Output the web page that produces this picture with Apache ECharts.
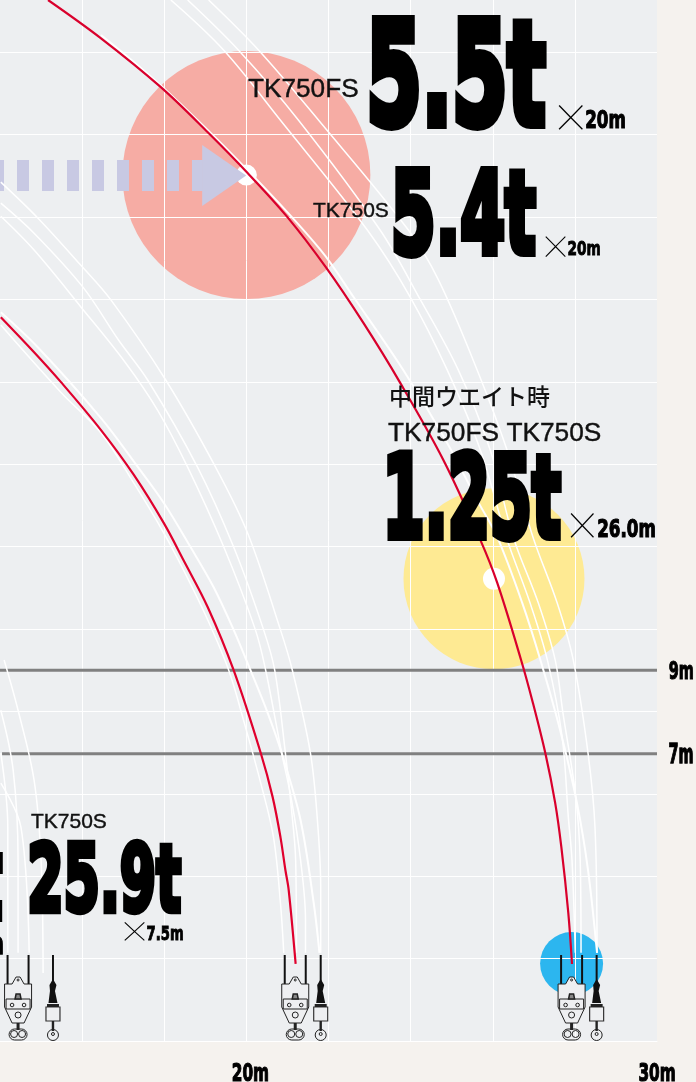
<!DOCTYPE html>
<html>
<head>
<meta charset="utf-8">
<style>html,body{margin:0;padding:0;background:#f5f2ee}#chart{width:696px;height:1082px}</style>
<script src="https://cdn.jsdelivr.net/npm/echarts@6/dist/echarts.min.js"></script>
</head>
<body>
<div id="chart"></div>
<script>
const myChart = echarts.init(document.getElementById("chart"));

// 揚程 / 作業半径 (m)
const xTicks = [20, 30];
const xTickLabels = ["20m", "30m"];
const heightLines = [9, 6.97];
const heightStarts = [14, 14.05];
const heightLabels = ["9m", "7m"];

const redOuter = [[15.17,25.27],[16.46,24.34],[17.91,23.16],[19.06,22.06],[20.03,21.07],[21.00,20.00],[21.93,18.79],[22.85,17.43],[23.75,15.97],[24.80,14.10],[25.70,12.16],[26.11,11.12],[26.69,9.25],[26.98,8.20],[27.28,6.99],[27.52,5.78],[27.67,4.71],[27.84,3.11],[27.93,1.87]];
const redInner = [[14.02,17.57],[14.83,16.72],[15.48,16.00],[16.46,14.83],[17.26,13.74],[17.99,12.57],[18.47,11.67],[19.06,10.53],[19.69,9.00],[20.35,6.99],[20.64,5.92],[20.83,4.95],[20.95,4.15],[21.03,3.67],[21.20,1.87]];

const outerF = [[16.46,24.42],[17.91,23.20],[20.03,21.14],[21.81,19.20],[22.61,18.06],[23.82,16.29],[24.85,14.59],[25.62,13.13],[26.11,12.23],[26.72,10.63],[27.16,9.25],[27.64,7.55],[28.05,5.78],[28.32,4.15],[28.54,2.14]];
const outerG = [[18.16,25.27],[19.45,24.05],[20.83,22.35],[22.95,19.68],[23.99,18.06],[24.89,16.29],[25.70,14.34],[26.33,12.23],[26.91,10.63],[27.33,9.25],[27.69,7.38],[27.84,5.44],[27.93,4.39],[28.01,2.14]];
const outerH = [[18.57,25.27],[19.81,24.05],[21.27,22.35],[23.26,19.68],[24.24,17.99],[25.16,16.29],[25.94,14.34],[26.50,12.23],[27.11,10.63],[27.52,9.25],[27.71,7.96],[28.01,6.02],[28.13,4.39],[28.15,2.14]];
const outerI = [[19.08,25.27],[20.30,24.05],[21.76,22.35],[23.95,19.68],[24.68,18.47],[25.62,16.29],[26.35,14.34],[26.98,12.23],[27.57,10.63],[27.96,9.25],[28.32,6.99],[28.49,5.19],[28.54,2.14]];

const innerA = [[14.02,17.69],[14.92,16.84],[16.46,15.12],[17.36,13.93],[17.99,13.06],[18.64,11.99],[19.20,11.02],[19.69,9.98],[20.10,9.00],[20.52,7.96],[20.86,6.99],[21.32,5.36],[21.64,3.35],[21.78,2.14]];
const innerB = [[14.02,17.38],[15.48,15.75],[16.46,14.76],[17.26,13.54],[17.99,12.33],[18.47,11.43],[19.06,10.22],[19.57,9.00],[19.93,7.79],[20.35,6.26],[20.66,4.95],[20.83,3.35],[20.91,2.14]];
const innerC = [[14.02,20.85],[14.92,19.98],[15.97,18.83],[16.70,17.99],[18.04,16.04],[19.25,13.93],[20.03,12.33],[20.83,9.98],[21.12,9.00],[21.56,6.99],[21.73,5.36],[21.81,3.74],[21.81,2.14]];
const innerD = [[14.02,20.34],[14.83,19.61],[16.02,18.30],[16.89,17.01],[17.60,16.04],[18.81,13.93],[19.69,11.99],[20.42,9.98],[20.69,9.00],[20.95,6.99],[21.10,5.61],[21.20,4.39],[21.22,2.14]];
const innerE = [[14.02,20.02],[14.83,19.20],[15.97,17.82],[17.06,16.46],[17.84,15.31],[18.57,13.93],[19.45,11.99],[20.22,9.98],[20.47,9.00],[20.86,6.99],[21.10,5.85],[21.32,4.39],[21.44,2.94],[21.44,2.14]];

const leftA = [[14.10,9.25],[14.44,8.03],[14.83,6.33],[15.00,4.39],[15.05,1.65]];
const leftB = [[14.02,8.03],[14.32,6.58],[14.44,4.39],[14.44,2.14]];
const leftC = [[14.02,6.99],[14.19,5.19],[14.19,2.14]];
const leftD = [[14.02,6.26],[14.51,5.19],[14.71,2.14]];

const whiteCurves = [outerF, outerG, outerH, outerI, innerA, innerB, innerC, innerD, innerE, leftA, leftB, leftC, leftD];

const loadPoints = [[20, 21.02], [26.03, 11.22], [27.92, 1.88]];
const loadSizes = [248, 181, 63];
const loadColors = ["#f6aca4", "#feea93", "#2cb6ef"];
const whiteDots = [[20, 21.02, 21], [26.03, 11.22, 22]];

const arrowShaft = [[14, 21.01], [18.94, 21.01]];
const arrowHead = [[19.46, 21.01]];

const mainHooks = [14.44, 21.19, 27.92];
const auxHooks = [15.29, 21.81, 28.53];

const INK = "#000";

// 主巻フック
function mainHook(api) {
  const p = api.coord([api.value(0), 0]);
  const cx = p[0], y = p[1];
  const ln = { stroke: "#222", lineWidth: 1, fill: "#eeeff1" };
  const no = { stroke: "#222", lineWidth: 1, fill: "none" };
  return { type: "group", children: [
    { type: "line", shape: { x1: cx - 10.5, y1: y - 86, x2: cx - 10.5, y2: y - 57 }, style: { stroke: "#111", lineWidth: 2 } },
    { type: "line", shape: { x1: cx + 10.5, y1: y - 86, x2: cx + 10.5, y2: y - 57 }, style: { stroke: "#111", lineWidth: 2 } },
    { type: "polygon", shape: { points: [[cx - 13.5, y - 57], [cx - 6, y - 57], [cx - 2, y - 64], [cx + 2, y - 64], [cx + 6, y - 57], [cx + 13.5, y - 57], [cx + 13.5, y - 34], [cx + 6, y - 18], [cx - 6, y - 18], [cx - 13.5, y - 34]] }, style: ln },
    { type: "rect", shape: { x: cx - 12, y: y - 42, width: 24, height: 10 }, style: ln },
    { type: "polygon", shape: { points: [[cx - 3, y - 42], [cx - 2, y - 47], [cx + 2, y - 47], [cx + 3, y - 42]] }, style: { stroke: "#222", lineWidth: 1.5, fill: "#888" } },
    { type: "circle", shape: { cx: cx - 6, cy: y - 36, r: 1.8 }, style: no },
    { type: "circle", shape: { cx: cx + 6, cy: y - 36, r: 1.8 }, style: no },
    { type: "circle", shape: { cx: cx, cy: y - 26, r: 3 }, style: no },
    { type: "circle", shape: { cx: cx, cy: y - 61, r: 1 }, style: no },
    { type: "rect", shape: { x: cx - 1.5, y: y - 18, width: 3, height: 7 }, style: { fill: "#222" } },
    { type: "rect", shape: { x: cx - 9, y: y - 12, width: 18, height: 11, r: 5.5 }, style: no },
    { type: "circle", shape: { cx: cx - 4, cy: y - 7, r: 3.5 }, style: no },
    { type: "circle", shape: { cx: cx + 4, cy: y - 7, r: 3.5 }, style: no }
  ] };
}

// 補巻フック
function auxHook(api) {
  const p = api.coord([api.value(0), 0]);
  const cx = p[0], y = p[1];
  return { type: "group", children: [
    { type: "line", shape: { x1: cx, y1: y - 86, x2: cx, y2: y - 58 }, style: { stroke: "#111", lineWidth: 2 } },
    { type: "polygon", shape: { points: [[cx, y - 62], [cx + 3.5, y - 56], [cx + 2, y - 50], [cx + 4.5, y - 38], [cx - 4.5, y - 38], [cx - 3, y - 50], [cx - 3.5, y - 56]] }, style: { fill: "#111" } },
    { type: "rect", shape: { x: cx - 7, y: y - 34, width: 14, height: 14 }, style: { stroke: "#333", lineWidth: 1.2, fill: "#eeeff1" } },
    { type: "rect", shape: { x: cx - 6, y: y - 37, width: 12, height: 3 }, style: { fill: "#222" } },
    { type: "line", shape: { x1: cx, y1: y - 20, x2: cx, y2: y - 10 }, style: { stroke: "#222", lineWidth: 2.4 } },
    { type: "circle", shape: { cx: cx, cy: y - 6, r: 5.5 }, style: { stroke: "#222", lineWidth: 1, fill: "none" } },
    { type: "circle", shape: { cx: cx, cy: y - 7, r: 1.5 }, style: { stroke: "#222", lineWidth: 1, fill: "none" } }
  ] };
}

let option = {
  animation: false,
  backgroundColor: "#f5f2ee",
  grid: { show: true, backgroundColor: "#edeff1", borderWidth: 0, left: -1.5, top: 0, width: 658.5, height: 1041 },
  xAxis: {
    type: "value", min: 14, max: 30, interval: 2, z: 3,
    axisLine: { show: true, lineStyle: { color: "#fff", width: 1 } },
    axisTick: { show: false }, axisLabel: { show: false },
    splitLine: { show: true, showMinLine: false, showMaxLine: false, lineStyle: { color: "#fff", width: 1 } }
  },
  yAxis: {
    type: "value", min: 0, max: 25.27, interval: 2, z: 3,
    axisLine: { show: false }, axisTick: { show: false }, axisLabel: { show: false },
    splitLine: { show: true, showMinLine: false, showMaxLine: false, lineStyle: { color: "#fff", width: 1 } }
  },
  series: [
    { type: "scatter", silent: true, z: 2, symbol: "circle", symbolSize: (v, p) => loadSizes[p.dataIndex],
      itemStyle: { opacity: 1, color: p => loadColors[p.dataIndex] }, data: loadPoints },
    { type: "scatter", silent: true, z: 4, symbol: "circle", symbolSize: v => v[2],
      itemStyle: { opacity: 1, color: "#fff" }, data: whiteDots },
    { type: "line", silent: true, z: 4, symbol: "none", data: arrowShaft,
      lineStyle: { color: "#c8c9e3", width: 31, type: [12, 13], dashOffset: 8, cap: "butt" } },
    { type: "scatter", silent: true, z: 4, symbol: "triangle", symbolRotate: -90, symbolSize: [61, 44],
      itemStyle: { opacity: 1, color: "#c8c9e3" }, data: arrowHead }
  ].concat(heightLines.map((h, i) => ({
    type: "line", silent: true, z: 4, symbol: "none", data: [[heightStarts[i], h], [30, h]],
    lineStyle: { color: "#808080", width: 3 }
  }))).concat(whiteCurves.map((c, i) => ({
    type: "line", silent: true, z: 5, symbol: "none", smooth: 0.35, data: c,
    lineStyle: { color: "#fff", width: i === 0 || i === 4 ? 2 : 1.5 }
  }))).concat([
    { type: "line", silent: true, z: 6, symbol: "none", smooth: 0.35, data: redOuter, lineStyle: { color: "#d9002c", width: 2.2 } },
    { type: "line", silent: true, z: 6, symbol: "none", smooth: 0.35, data: redInner, lineStyle: { color: "#e0002d", width: 2.2 } },
    { type: "custom", silent: true, z: 7, renderItem: (p, api) => mainHook(api), data: mainHooks.map(x => [x]), encode: { x: 0 }, clip: false },
    { type: "custom", silent: true, z: 7, renderItem: (p, api) => auxHook(api), data: auxHooks.map(x => [x]), encode: { x: 0 }, clip: false }
  ])
};

myChart.setOption(option);

// Impact 風の太字: 指定した矩形にインクが収まるように拡大縮小
const measureCtx = document.createElement("canvas").getContext("2d");
function fitText(text, x0, y0, x1, y1, font, lw) {
  measureCtx.font = font;
  measureCtx.textAlign = "left";
  measureCtx.textBaseline = "middle";
  const m = measureCtx.measureText(text);
  const w = m.actualBoundingBoxLeft + m.actualBoundingBoxRight + lw;
  const h = m.actualBoundingBoxAscent + m.actualBoundingBoxDescent + lw;
  const sx = (x1 - x0) / w, sy = (y1 - y0) / h;
  return {
    type: "text", z: 10, silent: true,
    x: x0 + (m.actualBoundingBoxLeft + lw / 2) * sx,
    y: y1 - (m.actualBoundingBoxDescent + lw / 2) * sy,
    scaleX: sx, scaleY: sy,
    style: { text: text, font: font, fill: INK, stroke: lw ? INK : null, lineWidth: lw, lineJoin: "miter", miterLimit: 2, align: "left", verticalAlign: "middle" }
  };
}
const HEAVY = 'bold 100px "DejaVu Sans"';
const THIN = '100 100px "Inter"';
function huge(t, x0, y0, x1, y1) { return fitText(t, x0, y0, x1, y1, HEAVY, 7); }
function heavy(t, x0, y0, x1, y1) { return fitText(t, x0, y0, x1, y1, HEAVY, 5); }
function cross(x0, y0, x1, y1) { return fitText("×", x0, y0, x1, y1, THIN, 0); }
function plain(t, x, y, size) {
  return { type: "text", z: 10, silent: true, x: x, y: y,
    style: { text: t, fill: "#111", stroke: "#111", lineWidth: 0.4, font: size + 'px "Liberation Sans"', align: "left", verticalAlign: "middle" } };
}

const px = v => myChart.convertToPixel({ xAxisIndex: 0 }, v);
const py = v => myChart.convertToPixel({ yAxisIndex: 0 }, v);

const texts = [
  plain("TK750FS", 248, 90, 26.2),
  plain("TK750S", 313, 211, 21),
  { type: "text", z: 10, silent: true, x: 389, y: 396, style: { text: "中間ウエイト時", fill: "#111", font: '500 23px "Noto Sans CJK JP"', align: "left", verticalAlign: "middle" } },
  plain("TK750FS TK750S", 388, 434, 26.3),
  plain("TK750S", 31, 822, 21),
  huge("5.5t", 369, 15, 547, 130),
  cross(558, 105, 583, 130), heavy("20m", 586, 109, 625, 129),
  huge("5.4t", 393, 165, 537, 258),
  cross(545, 236, 566, 257), heavy("20m", 568, 240, 600, 256),
  huge("1.25t", 387, 448, 562, 542),
  cross(570, 513, 594, 538), heavy("26.0m", 598, 518, 655, 538),
  huge("25.9t", 29, 838, 182, 915),
  cross(124, 922, 145, 941), heavy("7.5m", 147, 925, 183, 941),
  huge("t", -18, 836, 3, 922),
  heavy("m", -18, 937, 3, 955)
];
const tickShift = [4, 0];
xTicks.forEach((v, i) => {
  const c = px(v) + tickShift[i];
  texts.push(heavy(xTickLabels[i], c - 18, 1062, c + 18, 1082));
});
heightLines.forEach((v, i) => {
  const c = py(v);
  texts.push(heavy(heightLabels[i], 669, c - 10, 693, c + 10));
});
myChart.setOption({ graphic: { elements: texts } });
</script>
</body>
</html>
